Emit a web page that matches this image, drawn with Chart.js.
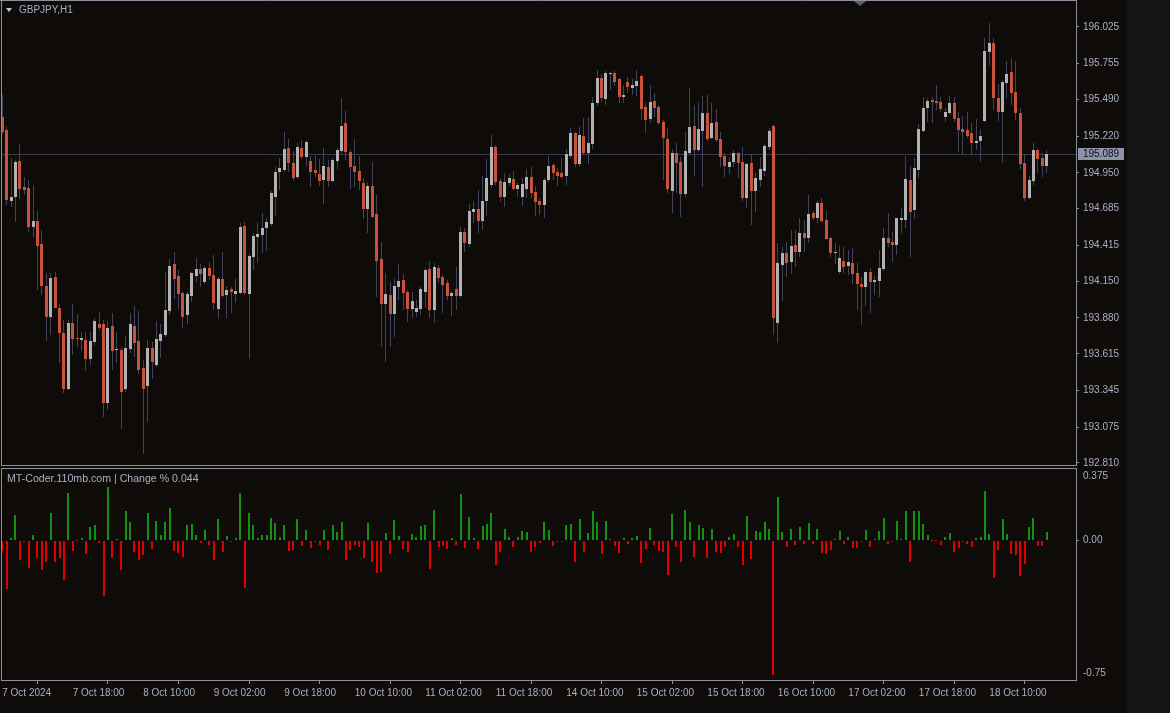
<!DOCTYPE html>
<html><head><meta charset="utf-8"><title>GBPJPY,H1</title>
<script src="https://cdn.jsdelivr.net/npm/chart.js@4.4.1/dist/chart.umd.min.js"></script>
<style>
html,body{margin:0;padding:0;background:#0e0b09;}
#wrap{position:relative;width:1170px;height:713px;overflow:hidden;background:#0e0b09;}
#strip{position:absolute;left:1127px;top:0;width:43px;height:713px;background:#141414;}
canvas{position:absolute;left:0;}
#c1{top:0;width:1170px;height:466px;}
#c2{top:466px;width:1170px;height:247px;}
.txt{position:absolute;font-family:"Liberation Sans",Arial,sans-serif;font-size:10px;color:#a9afc6;white-space:nowrap;line-height:12px;}
#title{left:19px;top:4px;}
#sub{left:7px;top:472px;font-size:10.6px;}
#tri{position:absolute;left:6px;top:8px;width:0;height:0;border-left:3.5px solid transparent;border-right:3.5px solid transparent;border-top:4px solid #c4c8d6;}
</style></head>
<body><div id="wrap"><div id="strip"></div>
<canvas id="c1" width="1170" height="466"></canvas>
<canvas id="c2" width="1170" height="247"></canvas>
<div id="tri"></div><div class="txt" id="title">GBPJPY,H1</div>
<div class="txt" id="sub">MT-Coder.110mb.com | Change % 0.044</div>
</div>
<script>
// ---- data (GBPJPY H1, 7 Oct 2024 02:00 .. 18 Oct 2024 23:00) ----
const opens = [
195.363,195.265,194.744,194.773,195.037,194.847,194.835,194.548,194.596,194.425,
194.115,193.888,194.183,193.955,193.766,193.353,193.842,193.733,193.717,193.717,
193.574,193.700,193.835,193.835,193.254,193.822,193.641,193.643,193.353,193.648,
193.822,193.709,193.508,193.377,193.655,193.532,193.711,193.751,193.930,194.277,
194.189,194.066,193.899,194.043,194.189,194.238,194.144,194.245,194.196,193.945,
194.164,194.048,194.093,194.058,194.066,194.557,194.054,194.326,194.474,194.491,
194.540,194.572,194.773,194.955,194.970,195.130,195.020,194.921,195.130,195.068,
195.037,194.970,194.939,194.897,194.990,194.889,195.037,195.110,195.315,195.101,
195.002,194.963,194.872,194.680,194.854,194.646,194.312,193.980,194.048,193.906,
194.110,194.159,194.068,193.945,193.921,193.945,194.073,194.238,193.938,194.245,
194.179,194.135,194.041,194.093,194.041,194.515,194.425,194.661,194.685,194.596,
194.742,194.857,195.138,194.889,194.769,194.877,194.904,194.828,194.773,194.832,
194.921,194.806,194.742,194.710,194.897,195.007,194.953,194.946,194.928,195.074,
195.241,195.012,195.221,195.098,195.162,195.462,195.647,195.492,195.678,195.688,
195.639,195.506,195.622,195.573,195.590,195.664,195.433,195.344,195.481,195.433,
195.327,195.199,194.818,195.093,195.027,194.793,195.093,195.295,195.118,195.260,
195.388,195.204,195.322,195.199,195.076,194.995,195.027,195.093,195.027,194.766,
195.020,194.818,194.897,194.965,195.142,195.295,193.842,194.270,194.356,194.294,
194.417,194.368,194.508,194.467,194.655,194.614,194.729,194.602,194.467,194.356,
194.220,194.299,194.265,194.287,194.213,194.130,194.110,194.220,194.147,194.154,
194.238,194.467,194.441,194.417,194.602,194.602,194.897,194.675,194.970,195.260,
195.425,195.484,195.481,195.474,195.363,195.393,195.467,195.352,195.273,195.265,
195.241,195.167,195.186,195.334,195.843,195.905,195.503,195.400,195.610,195.691,
195.548,195.393,195.020,194.762,194.889,195.118,195.061,195.003];
const highs = [
195.523,195.287,195.059,195.044,195.160,194.921,194.897,194.860,194.668,194.528,
194.209,194.213,194.220,193.982,193.864,193.864,193.980,193.906,193.773,193.773,
193.773,193.877,193.921,193.864,193.859,193.914,193.773,193.667,193.748,193.914,
193.969,193.930,193.569,193.717,193.700,193.857,193.835,194.220,194.314,194.368,
194.233,194.073,194.071,194.216,194.319,194.277,194.262,194.294,194.343,194.181,
194.368,194.115,194.110,194.164,194.577,194.589,194.351,194.503,194.577,194.651,
194.614,194.815,194.990,195.057,195.248,195.197,195.110,195.172,195.192,195.192,
195.074,195.074,195.049,195.130,195.044,195.057,195.130,195.499,195.408,195.118,
195.197,195.074,194.909,194.884,195.027,194.786,194.441,194.213,194.147,194.164,
194.277,194.203,194.085,194.073,194.012,194.110,194.245,194.301,194.287,194.270,
194.196,194.159,194.080,194.253,194.552,194.540,194.720,194.742,194.823,194.926,
195.049,195.228,195.155,194.909,194.950,194.941,194.965,194.872,194.909,194.978,
194.995,194.854,194.762,194.911,195.074,195.020,194.983,195.057,195.125,195.278,
195.253,195.285,195.352,195.363,195.506,195.708,195.678,195.703,195.695,195.703,
195.647,195.597,195.654,195.639,195.708,195.671,195.462,195.597,195.536,195.450,
195.339,195.278,195.123,195.172,195.064,195.253,195.573,195.450,195.467,195.516,
195.523,195.462,195.418,195.253,195.093,195.064,195.118,195.105,195.138,195.024,
195.081,194.946,195.064,195.162,195.278,195.300,194.430,194.400,194.441,194.528,
194.528,194.614,194.602,194.786,194.670,194.744,194.762,194.670,194.478,194.434,
194.410,194.405,194.381,194.397,194.282,194.183,194.220,194.250,194.189,194.381,
194.540,194.651,194.515,194.620,194.692,195.076,195.002,195.057,195.307,195.511,
195.499,195.511,195.597,195.511,195.425,195.518,195.511,195.400,195.371,195.396,
195.315,195.346,195.273,195.946,196.052,195.946,195.602,195.634,195.774,195.794,
195.774,195.430,195.081,194.928,195.167,195.125,195.093,195.118];
const lows = [
195.236,194.712,194.697,194.589,194.754,194.786,194.515,194.474,194.085,194.048,
193.711,193.753,193.950,193.545,193.323,193.348,193.606,193.667,193.638,193.490,
193.532,193.680,193.790,193.151,193.200,193.498,193.545,193.058,193.333,193.618,
193.593,193.466,192.874,193.114,193.427,193.517,193.581,193.739,193.901,194.019,
193.945,193.807,193.835,193.999,194.147,194.105,194.130,194.159,193.938,193.869,
194.036,193.877,193.914,193.991,194.056,194.048,193.574,194.233,194.282,194.360,
194.375,194.557,194.631,194.823,194.955,194.958,194.889,194.902,195.049,195.000,
194.843,194.921,194.852,194.720,194.847,194.884,194.975,195.096,195.044,194.828,
194.843,194.823,194.607,194.508,194.616,194.031,193.667,193.557,193.667,193.741,
194.012,193.938,193.852,193.877,193.884,193.901,193.950,193.877,193.844,194.135,
193.918,194.012,193.896,193.938,194.026,194.368,194.405,194.577,194.503,194.528,
194.631,194.838,194.860,194.737,194.700,194.852,194.823,194.773,194.705,194.762,
194.762,194.631,194.638,194.614,194.882,194.897,194.852,194.909,194.860,195.059,
194.995,194.995,195.081,195.015,195.123,195.442,195.474,195.450,195.560,195.590,
195.462,195.462,195.540,195.523,195.516,195.339,195.241,195.319,195.363,195.302,
194.897,194.803,194.651,194.798,194.626,194.773,195.081,194.926,195.103,194.847,
195.184,195.197,195.179,194.995,194.916,194.941,194.990,194.909,194.744,194.688,
194.565,194.663,194.847,194.926,195.118,193.753,193.692,194.007,194.179,194.203,
194.257,194.326,194.368,194.430,194.602,194.582,194.587,194.454,194.331,194.277,
194.203,194.209,194.196,194.127,193.938,193.827,193.969,193.914,194.048,194.036,
194.225,194.405,194.294,194.343,194.503,194.540,194.331,194.609,194.909,195.253,
195.327,195.315,195.413,195.400,195.327,195.383,195.322,195.105,195.081,195.204,
195.081,195.118,195.031,195.327,195.745,195.413,195.332,195.020,195.499,195.450,
195.339,194.978,194.742,194.756,194.860,194.946,194.921,194.946];
const closes = [
195.253,194.749,194.769,195.031,194.828,194.823,194.548,194.596,194.410,194.115,
193.888,194.172,193.955,193.766,193.353,193.842,193.726,193.726,193.733,193.574,
193.711,193.857,193.807,193.250,193.807,193.638,193.645,193.335,193.655,193.835,
193.697,193.498,193.353,193.655,193.557,193.726,193.759,193.938,194.265,194.166,
194.054,193.888,194.054,194.209,194.238,194.203,194.245,194.191,193.991,194.164,
194.041,194.085,194.068,194.078,194.550,194.061,194.338,194.484,194.498,194.540,
194.589,194.798,194.953,194.987,195.123,195.020,194.913,195.142,195.068,195.175,
194.953,194.946,194.889,195.002,194.889,195.044,195.118,195.295,195.101,194.995,
194.953,194.889,194.680,194.854,194.621,194.301,193.980,194.054,193.906,194.115,
194.152,194.061,193.945,194.004,193.955,194.093,194.233,193.938,194.253,194.172,
194.122,194.041,194.066,194.041,194.515,194.434,194.668,194.685,194.596,194.742,
194.913,195.138,194.882,194.769,194.880,194.913,194.828,194.857,194.865,194.921,
194.798,194.737,194.710,194.897,195.002,194.946,194.928,194.921,195.086,195.241,
195.012,195.228,195.098,195.172,195.467,195.647,195.499,195.688,195.688,195.622,
195.506,195.523,195.580,195.597,195.629,195.418,195.339,195.474,195.425,195.315,
195.204,194.830,195.093,195.020,194.793,195.110,195.285,195.118,195.270,195.388,
195.199,195.315,195.192,195.068,195.002,195.027,195.093,195.020,194.762,195.012,
194.818,194.913,194.978,195.150,195.258,193.881,194.287,194.356,194.287,194.410,
194.368,194.508,194.467,194.646,194.614,194.729,194.596,194.459,194.360,194.360,
194.319,194.257,194.294,194.203,194.127,194.110,194.216,194.147,194.159,194.245,
194.467,194.430,194.417,194.614,194.614,194.904,194.663,194.983,195.270,195.425,
195.479,195.470,195.467,195.420,195.400,195.467,195.346,195.265,195.253,195.223,
195.167,195.184,195.221,195.848,195.905,195.503,195.400,195.622,195.676,195.540,
195.388,195.012,194.766,194.897,195.118,195.051,195.002,195.089];
const priceTicks = [196.025,195.755,195.490,195.220,194.950,194.685,194.415,194.150,193.880,193.615,193.345,193.075,192.810];
const timeTickIdx = [0,16,32,48,64,80,96,112,128,144,160,176,192,208,224];
const timeTickLabels = ["7 Oct 2024","7 Oct 18:00","8 Oct 10:00","9 Oct 02:00","9 Oct 18:00","10 Oct 10:00","11 Oct 02:00","11 Oct 18:00","14 Oct 10:00","15 Oct 02:00","15 Oct 18:00","16 Oct 10:00","17 Oct 02:00","17 Oct 18:00","18 Oct 10:00"];
const changeTicks = [0.375, 0, -0.75];
const changeTickLabels = ["0.375","0.00","-0.75"];
const lastPrice = 195.089;
// Change % indicator = (close-open)/open*100 per bar
const changePct = closes.map((c,i)=> (c-opens[i])/opens[i]*100);

// ---- styles ----
const FONT = '"Liberation Sans", Arial, sans-serif';
const TXT = '#a9afc6';
const FRAME = '#8d8f9c';
const BULL = '#b2b2b2', BEAR = '#c9523c', WICK = '#40445a';
const UP = '#129012', DN = '#e00000';
const X_MIN = -0.05, X_MAX = 243.66;

function noPad(s){ s.paddingTop = 0; s.paddingBottom = 0; s.paddingLeft = 0; s.paddingRight = 0; }

const crisp = {
  id:'crisp',
  afterDatasetsUpdate(chart){
    chart.data.datasets.forEach((ds,di)=>{
      const meta = chart.getDatasetMeta(di);
      const w = ds.barThickness;
      meta.data.forEach(el=>{
        el.x = (w % 2 === 1) ? Math.floor(el.x) + 0.5 : Math.round(el.x);
        let y = Math.round(el.y), b = Math.round(el.base);
        if (Math.abs(y-b) < 1) y = b - 1;
        el.y = y; el.base = b;
      });
    });
  }
};

const mainDeco = {
  id:'mainDeco',
  beforeDatasetsDraw(chart){
    const ctx = chart.ctx, a = chart.chartArea, y = Math.round(chart.scales.y.getPixelForValue(lastPrice)) + 0.5;
    ctx.save(); ctx.strokeStyle = '#383a52'; ctx.lineWidth = 1;
    ctx.beginPath(); ctx.moveTo(a.left, y); ctx.lineTo(a.right, y); ctx.stroke(); ctx.restore();
  },
  afterDraw(chart){
    const ctx = chart.ctx, a = chart.chartArea;
    ctx.save();
    ctx.strokeStyle = FRAME; ctx.lineWidth = 1;
    ctx.beginPath();
    ctx.moveTo(0, 0.5); ctx.lineTo(a.right + 1, 0.5);
    ctx.moveTo(1.5, 0); ctx.lineTo(1.5, a.bottom + 1);
    ctx.moveTo(a.right + 0.5, 0); ctx.lineTo(a.right + 0.5, a.bottom + 1);
    ctx.moveTo(1, a.bottom + 0.5); ctx.lineTo(a.right + 1, a.bottom + 0.5);
    ctx.stroke();
    // shift marker
    ctx.fillStyle = '#5c6072';
    ctx.beginPath(); ctx.moveTo(854, 1); ctx.lineTo(866, 1); ctx.lineTo(860, 6); ctx.closePath(); ctx.fill();
    // last price label
    const y = Math.round(chart.scales.y.getPixelForValue(lastPrice));
    ctx.fillStyle = '#8e94a8';
    ctx.fillRect(a.right + 2, y - 6, 46, 12);
    ctx.fillStyle = '#0f0f18';
    ctx.font = '10px ' + FONT; ctx.textBaseline = 'middle'; ctx.textAlign = 'left';
    ctx.fillText(lastPrice.toFixed(3), a.right + 7, y + 0.5);
    ctx.restore();
  }
};

const subDeco = {
  id:'subDeco',
  afterDraw(chart){
    const ctx = chart.ctx, a = chart.chartArea;
    ctx.save(); ctx.strokeStyle = FRAME; ctx.lineWidth = 1;
    ctx.beginPath();
    ctx.moveTo(1, a.top + 0.5); ctx.lineTo(a.right + 1, a.top + 0.5);
    ctx.moveTo(1.5, a.top); ctx.lineTo(1.5, a.bottom + 1);
    ctx.moveTo(a.right + 0.5, a.top); ctx.lineTo(a.right + 0.5, a.bottom + 1);
    ctx.moveTo(1, a.bottom + 0.5); ctx.lineTo(a.right + 1, a.bottom + 0.5);
    ctx.stroke(); ctx.restore();
  }
};

new Chart(document.getElementById('c1'), {
  type:'bar',
  data:{datasets:[
    {label:'body', order:0, grouped:false, barThickness:3, minBarLength:1, borderWidth:0, inflateAmount:0,
     data: opens.map((o,i)=>({x:i, y:[o, closes[i]]})),
     backgroundColor: opens.map((o,i)=> closes[i] >= o ? BULL : BEAR)},
    {label:'wick', order:1, grouped:false, barThickness:1, borderWidth:0, inflateAmount:0,
     data: highs.map((h,i)=>({x:i, y:[lows[i], h]})),
     backgroundColor: WICK}
  ]},
  options:{
    responsive:false, animation:false, devicePixelRatio:1, events:[],
    layout:{padding:{left:2, top:1, right:0, bottom:1}},
    plugins:{legend:{display:false}, tooltip:{enabled:false}},
    scales:{
      x:{type:'linear', min:X_MIN, max:X_MAX, display:false, offset:false},
      y:{position:'right', min:192.7951, max:196.2167,
        afterFit(s){ s.width = 94; noPad(s); },
        afterBuildTicks(s){ s.ticks = priceTicks.map(v=>({value:v})); },
        ticks:{autoSkip:false, padding:4, color:TXT, font:{family:FONT, size:10}, callback:v=>Number(v).toFixed(3)},
        grid:{drawOnChartArea:false, tickLength:3, color:FRAME},
        border:{display:false}}
    }
  },
  plugins:[crisp, mainDeco]
});

const SUB_MIN = -0.75, SUB_MAX = 0.386;
const SUB_UNIT = (SUB_MAX - SUB_MIN)/212;
const subTickPos = [SUB_MAX - 8*SUB_UNIT, 0, SUB_MIN + 7*SUB_UNIT];
new Chart(document.getElementById('c2'), {
  type:'bar',
  data:{datasets:[
    {label:'Change %', grouped:false, barThickness:2, borderWidth:0, inflateAmount:0,
     data: changePct.map((v,i)=>({x:i, y:v})),
     backgroundColor: changePct.map(v=> v >= 0 ? UP : DN)}
  ]},
  options:{
    responsive:false, animation:false, devicePixelRatio:1, events:[],
    layout:{padding:{left:2, top:2, right:0, bottom:0}},
    plugins:{legend:{display:false}, tooltip:{enabled:false}},
    scales:{
      x:{type:'linear', min:X_MIN, max:X_MAX, offset:false, position:'bottom',
        afterFit(s){ s.height = 33; noPad(s); },
        afterBuildTicks(s){ s.ticks = timeTickIdx.map(v=>({value:v})); },
        ticks:{autoSkip:false, maxRotation:0, minRotation:0, align:'start', labelOffset:0, padding:3,
          color:TXT, font:{family:FONT, size:10},
          callback:v=> timeTickLabels[timeTickIdx.indexOf(v)]},
        grid:{drawOnChartArea:false, tickLength:4, color:FRAME},
        border:{display:false}},
      y:{position:'right', min:SUB_MIN, max:SUB_MAX,
        afterFit(s){ s.width = 94; noPad(s); },
        afterBuildTicks(s){ s.ticks = subTickPos.map(v=>({value:v})); },
        ticks:{autoSkip:false, padding:4, color:TXT, font:{family:FONT, size:10},
          callback:(v,idx)=> changeTickLabels[idx]},
        grid:{drawOnChartArea:false, tickLength:3, tickColor:c=> (c.tick && c.tick.value === 0) ? FRAME : 'rgba(0,0,0,0)'},
        border:{display:false}}
    }
  },
  plugins:[crisp, subDeco]
});
</script>
</body></html>
